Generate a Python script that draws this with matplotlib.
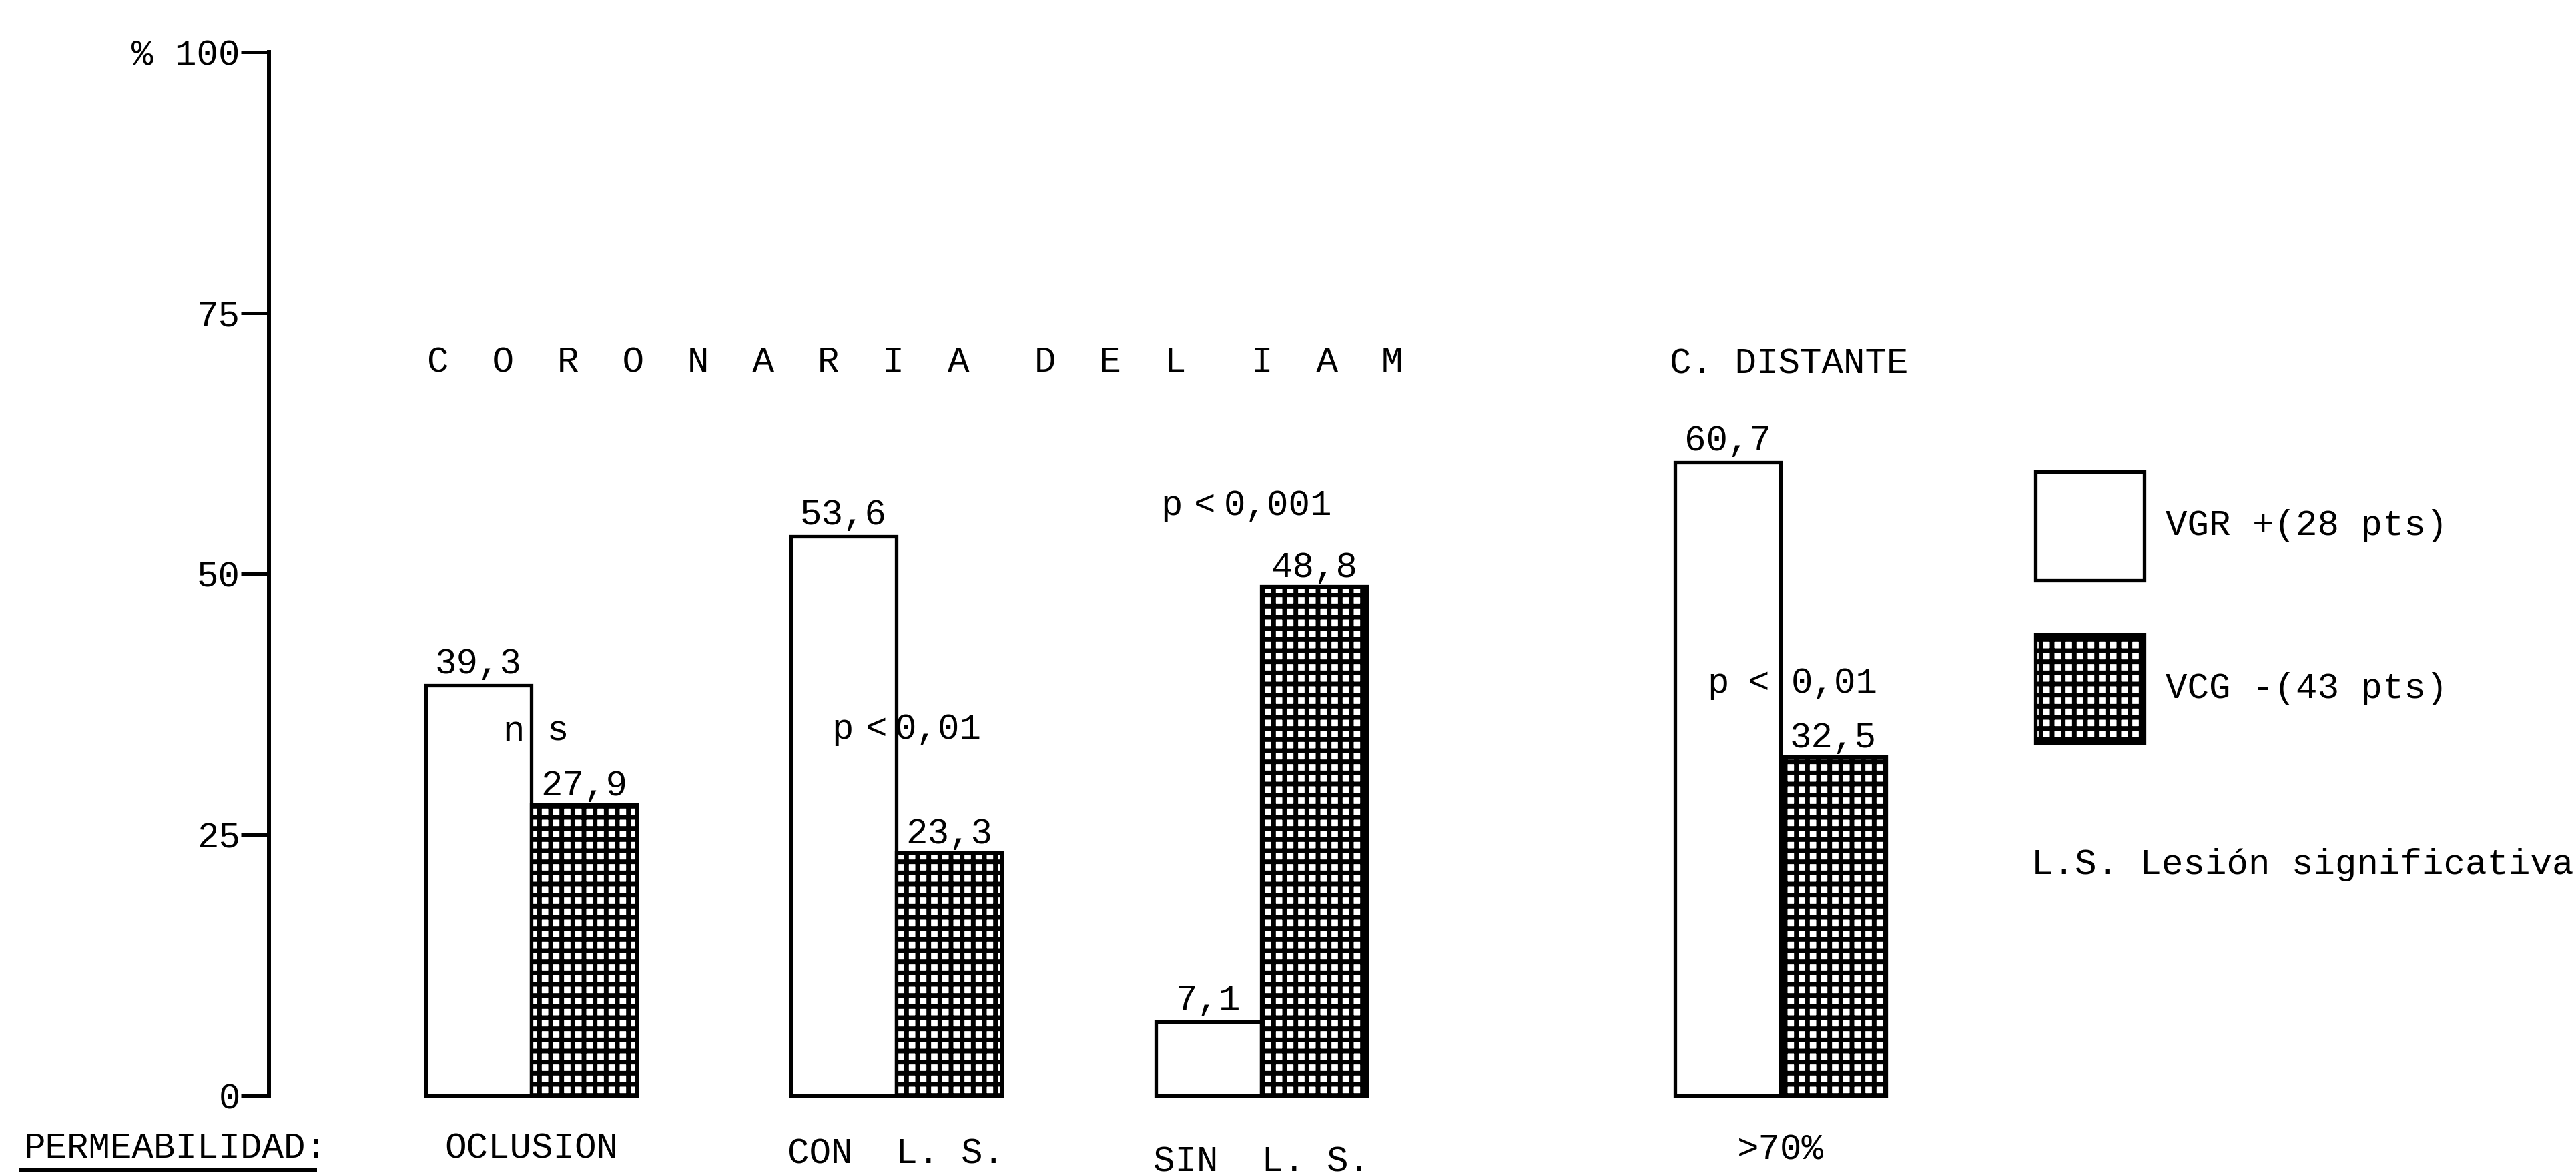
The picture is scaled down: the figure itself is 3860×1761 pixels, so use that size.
import numpy as np
import matplotlib
matplotlib.use("Agg")
import matplotlib.pyplot as plt
from matplotlib.lines import Line2D

# ---------------- data ----------------
categories = ["OCLUSION", "CON  L. S.", "SIN  L. S.", ">70%"]
vgr_pos = [39.3, 53.6, 7.1, 60.7]          # VGR + (28 pts)
vcg_neg = [27.9, 23.3, 48.8, 32.5]         # VCG - (43 pts)
vgr_labels = ["39,3", "53,6", "7,1", "60,7"]
vcg_labels = ["27,9", "23,3", "48,8", "32,5"]
series_names = ["VGR +(28 pts)", "VCG -(43 pts)"]
yticks = [0, 25, 50, 75, 100]
ytick_labels = ["0", "25", "50", "75", "% 100"]
title_iam = "C  O  R  O  N  A  R  I  A   D  E  L   I  A  M"
title_dist = "C. DISTANTE"
x_heading = "PERMEABILIDAD:"
note = "L.S. Lesión significativa"
p_values = ["0,01", "0,001", "0,01"]        # groups 2, 3, 4 ; group 1 is "n s"

# ---------------- style ----------------
W, H, DPI = 3860, 1761, 100
plt.rcParams["font.family"] = ["Liberation Mono", "DejaVu Sans Mono"]
plt.rcParams["font.size"] = 39
plt.rcParams["hatch.linewidth"] = 5.0
plt.rcParams["hatch.color"] = "black"

fig = plt.figure(figsize=(W / DPI, H / DPI), dpi=DPI, facecolor="white")

def fx(px):
    return px / W

def fy(py):
    return 1 - py / H

def ptext(x, y, s, **kw):
    kw.setdefault("va", "baseline")
    return fig.text(fx(x), fy(y), s, **kw)

# axes: y axis line at x=403 px, 0 at y=1642 px, 100 at y=78 px
unit = 547.0                       # pixels per group step
ax_left, ax_right = 403, 3000
ax = fig.add_axes([fx(ax_left), fy(1642), (ax_right - ax_left) / W, (1642 - 78) / H])
ax.set_facecolor("none")

group_x = np.array([0.0, 1.0, 2.0, 3.422])
bar_w = 158 / unit
ax.set_xlim((ax_left - 796) / unit, (ax_right - 796) / unit)
ax.set_ylim(0, 100)

lw = 3.8
b1 = ax.bar(group_x - bar_w / 2, vgr_pos, bar_w, facecolor="white",
            edgecolor="black", linewidth=lw, label=series_names[0], clip_on=False)
b2 = ax.bar(group_x + bar_w / 2, vcg_neg, bar_w, facecolor="white",
            edgecolor="black", linewidth=lw, hatch="+", label=series_names[1], clip_on=False)

# value labels
for x, v, t in zip(group_x - bar_w / 2, vgr_pos, vgr_labels):
    ax.annotate(t, (x, v), xytext=(0, 13), textcoords="offset points",
                ha="center", va="baseline")
for x, v, t in zip(group_x + bar_w / 2, vcg_neg, vcg_labels):
    ax.annotate(t, (x, v), xytext=(0, 10), textcoords="offset points",
                ha="center", va="baseline")

# significance annotations (pixel layout)
ptext(770, 1110, "n", ha="center")
ptext(836, 1110, "s", ha="center")
ptext(1263, 1107, "p", ha="center")
ptext(1313, 1107, "<", ha="center")
ptext(1341, 1107, p_values[0], ha="left")
ptext(1756, 772, "p", ha="center")
ptext(1805, 772, "<", ha="center")
ptext(1834, 772, p_values[1], ha="left")
ptext(2575, 1038, "p", ha="center")
ptext(2635, 1038, "<", ha="center")
ptext(2684, 1038, p_values[2], ha="left")

# axes styling
for s in ["top", "right", "bottom"]:
    ax.spines[s].set_visible(False)
ax.spines["left"].set_linewidth(4.3)
ax.spines["left"].set_bounds(0, 100)
ax.set_yticks(yticks, ytick_labels)
ax.tick_params(axis="y", length=30, width=3.6, direction="out", pad=1, labelsize=39)
ax.set_xticks([])

# category labels below the bars
label_baselines = [1735, 1743, 1755, 1737]
xform = ax.get_xaxis_transform()
for x, c, by in zip(group_x, categories, label_baselines):
    ax.text(x, -(by - 1642) / (1642 - 78), c, transform=xform,
            ha="center", va="baseline", clip_on=False)

# headings
ptext(640, 558, title_iam, ha="left")
ptext(2502, 560, title_dist, ha="left")
ptext(36, 1735, x_heading, ha="left")
fig.add_artist(Line2D([fx(30), fx(472)], [fy(1753), fy(1753)],
                      transform=fig.transFigure, color="black", linewidth=3.6))

# legend
ax.legend(handles=[b1, b2], labels=series_names, loc="upper left",
          bbox_to_anchor=(fx(3050), fy(707)), bbox_transform=fig.transFigure,
          frameon=False, handlelength=3.0, handleheight=4.24, handletextpad=0.6,
          labelspacing=1.5, borderpad=0, borderaxespad=0, fontsize=39)
ptext(3044, 1310, note, ha="left")

fig.savefig("out.png", dpi=DPI, facecolor="white")
